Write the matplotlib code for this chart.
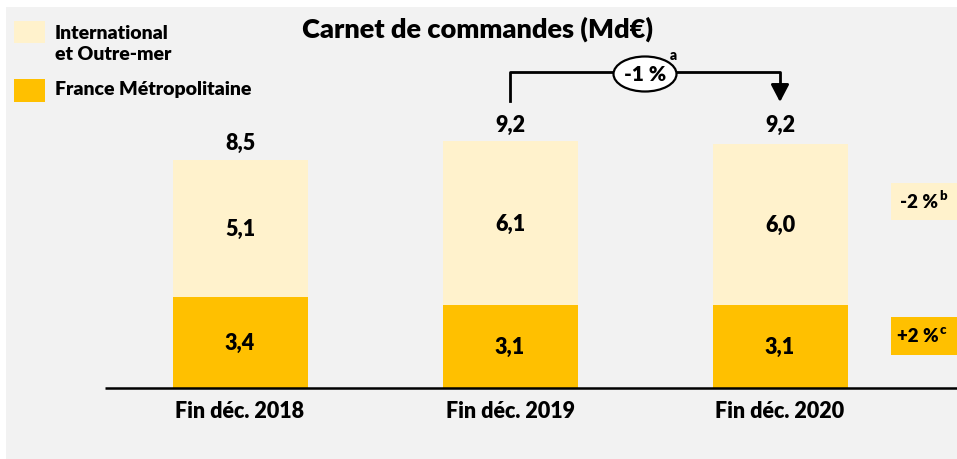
import matplotlib
matplotlib.use("Agg")
import matplotlib.pyplot as plt
from matplotlib.patches import Rectangle, Ellipse

plt.rcParams['font.family'] = ['Lato', 'DejaVu Sans']
WT = "heavy"
plt.rcParams['font.weight'] = WT

categories = ["Fin déc. 2018", "Fin déc. 2019", "Fin déc. 2020"]
france = [3.4, 3.1, 3.1]
international = [5.1, 6.1, 6.0]
totals = [8.5, 9.2, 9.2]
series_names = ["International\net Outre-mer", "France Métropolitaine"]
title = "Carnet de commandes (Md€)"
change_total = "-1 %"
change_intl = "-2 %"
change_fr = "+2 %"

C_LIGHT = "#FFF2CC"
C_DARK = "#FFC000"
BG = "#F2F2F2"

W, H = 957, 460
fig = plt.figure(figsize=(W / 100, H / 100), dpi=100)
fig.patch.set_facecolor("white")
fig.patches.append(Rectangle((6 / W, 0), 1 - 6 / W, (H - 8) / H,
                             transform=fig.transFigure, facecolor=BG,
                             edgecolor="none", zorder=-2))

ax = fig.add_axes([0, 0, 1, 1])
ax.set_zorder(3)
ax.set_facecolor("none")
ppu = 26.8        # pixels per unit
px_cat = 270.0    # pixels per category
x0 = 240.0
base = 389.0
ax.set_xlim(-x0 / px_cat, (W - x0) / px_cat)
ax.set_ylim(-(H - base) / ppu, base / ppu)
ax.axis("off")

x = list(range(len(categories)))
bw = 135 / px_cat
ax.bar(x, france, width=bw, color=C_DARK, zorder=2)
ax.bar(x, international, width=bw, bottom=france, color=C_LIGHT, zorder=2)

fs = 15.5
for i in x:
    ax.text(i, france[i] / 2, f"{france[i]:.1f}".replace(".", ","), ha="center",
            va="center", fontsize=fs, fontweight=WT, zorder=3)
    ax.text(i, france[i] + international[i] / 2,
            f"{international[i]:.1f}".replace(".", ","), ha="center",
            va="center", fontsize=fs, fontweight=WT, zorder=3)
    ax.text(i, totals[i] + 0.65, f"{totals[i]:.1f}".replace(".", ","),
            ha="center", va="center", fontsize=fs, fontweight=WT, zorder=3)
    ax.text(i, -23 / ppu, categories[i], ha="center", va="center",
            fontsize=15.5, fontweight=WT, zorder=3)

# baseline
ax.plot([(105 - x0) / px_cat, (W - x0) / px_cat], [0, 0], color="black",
        lw=1.8, zorder=3, solid_capstyle="butt")

# bracket arrow between 2019 and 2020
y_top = (base - 73) / ppu
y_low = (base - 102) / ppu
ax.plot([1, 1, 2, 2], [y_low, y_top, y_top, (base - 90) / ppu], color="black",
        lw=2, zorder=3)
ax.annotate("", xy=(2, (base - 103) / ppu), xytext=(2, (base - 86) / ppu),
            arrowprops=dict(arrowstyle="-|>,head_width=0.55,head_length=1.05",
                            color="black", lw=2, shrinkA=0, shrinkB=0),
            zorder=4)
ex = (645 - x0) / px_cat
ax.add_patch(Ellipse((ex, (base - 75) / ppu), 63 / px_cat, 35 / ppu,
                     facecolor="white", edgecolor="black", lw=1.6, zorder=4))
ax.text(ex, (base - 75) / ppu, change_total, ha="center", va="center",
        fontsize=15, fontweight=WT, zorder=5)
ax.text((673 - x0) / px_cat, (base - 56) / ppu, "a", ha="center", va="center",
        fontsize=10, fontweight=WT, zorder=5)

# Right-side change boxes
def fx(px):
    return px / W

def fy(py):
    return 1 - py / H

fig.patches.append(Rectangle((fx(891), fy(221)), fx(W) - fx(891), (221 - 184) / H,
                             transform=fig.transFigure, facecolor=C_LIGHT,
                             edgecolor="none", zorder=-1))
fig.patches.append(Rectangle((fx(891), fy(356)), fx(W) - fx(891), (356 - 318) / H,
                             transform=fig.transFigure, facecolor=C_DARK,
                             edgecolor="none", zorder=-1))
fig.text(fx(919), fy(203), change_intl, ha="center", va="center", fontsize=13.5,
         fontweight=WT)
fig.text(fx(943), fy(196), "b", ha="center", va="center", fontsize=9.5,
         fontweight=WT)
fig.text(fx(918), fy(337), change_fr, ha="center", va="center", fontsize=13.5,
         fontweight=WT)
fig.text(fx(943), fy(330), "c", ha="center", va="center", fontsize=9.5,
         fontweight=WT)

# Title
fig.text(fx(478), fy(29), title, ha="center", va="center", fontsize=19.5,
         fontweight=WT)

# Legend
fig.patches.append(Rectangle((fx(14), fy(44)), 31 / W, 22 / H,
                             transform=fig.transFigure, facecolor=C_LIGHT,
                             edgecolor="none", zorder=-1))
fig.patches.append(Rectangle((fx(14), fy(103)), 31 / W, 23 / H,
                             transform=fig.transFigure, facecolor=C_DARK,
                             edgecolor="none", zorder=-1))
fig.text(fx(55), fy(44), series_names[0], ha="left", va="center", fontsize=14,
         fontweight=WT, linespacing=1.3)
fig.text(fx(55), fy(90), series_names[1], ha="left", va="center", fontsize=14,
         fontweight=WT)

fig.savefig("out.png", dpi=100, facecolor=fig.get_facecolor())
